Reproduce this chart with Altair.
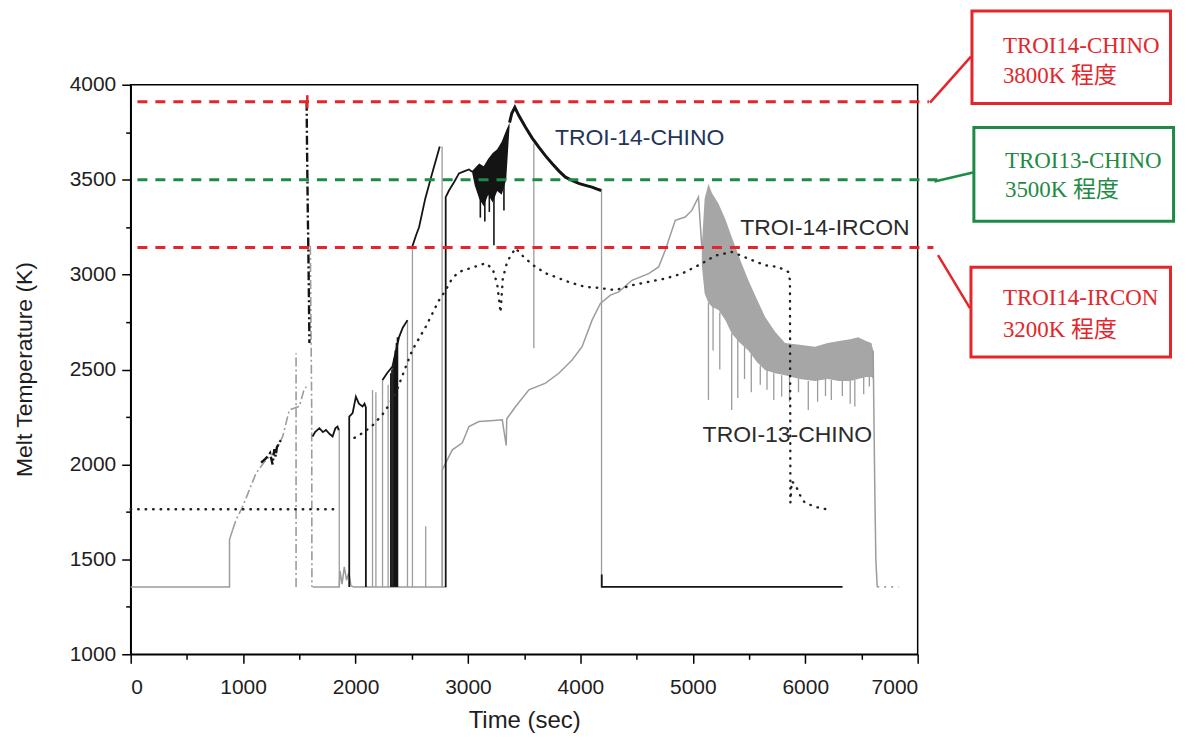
import altair as alt
import pandas as pd

# ---------------- values ----------------
# TROI-13-CHINO (grey trace)
c13_base_t = [0, 879, 879, 908]
c13_base_k = [1355, 1355, 1604, 1657]
c13_rise_t = [908, 938, 997, 1115, 1204, 1290, 1352, 1411, 1470, 1500, 1540, 1562]
c13_rise_k = [1657, 1709, 1779, 1954, 2025, 2070, 2147, 2287, 2300, 2305, 2390, 2410]
c13_drop1_t = [1471, 1471]
c13_drop1_k = [1355, 2585]
c13_drop2_t = [1598, 1604, 1610, 1612]
c13_drop2_k = [3150, 2700, 2300, 1355]
c13_low_t = [1618, 1855, 1862, 1880, 1900, 1920, 1940, 1960, 1985, 2810]
c13_low_k = [1355, 1355, 1440, 1370, 1460, 1390, 1430, 1360, 1355, 1355]
c13_main_t = [2772, 2772, 2861, 2950, 3009, 3098, 3200, 3305, 3340, 3345, 3424, 3542, 3690,
              3808, 3926, 4015, 4104, 4178, 4267, 4341, 4459, 4607, 4696, 4755, 4844, 4932,
              4991, 5050, 5080]
c13_main_k = [1355, 1972, 2077, 2114, 2200, 2226, 2230, 2235, 2100, 2240, 2305, 2393, 2428,
              2480, 2550, 2620, 2760, 2848, 2892, 2909, 2970, 3005, 3040, 3128, 3286, 3303,
              3338, 3408, 3146]
c13_band_t = [5080, 5105, 5139, 5170, 5228, 5290, 5346, 5420, 5494, 5570, 5642, 5730, 5820,
              5950, 6086, 6200, 6300, 6400, 6471, 6540, 6589, 6604]
c13_band_hi = [3150, 3400, 3478, 3430, 3374, 3290, 3198, 3080, 2970, 2870, 2778, 2700, 2639,
               2630, 2620, 2640, 2650, 2660, 2670, 2650, 2640, 2600]
c13_band_lo = [3050, 2900, 2850, 2830, 2813, 2760, 2690, 2640, 2600, 2540, 2498, 2480, 2470,
               2450, 2440, 2450, 2440, 2440, 2450, 2460, 2460, 2450]
c13_tail_t = [6604, 6610, 6618, 6628, 6640]
c13_tail_k = [2600, 2300, 1900, 1500, 1355]
c13_dots_t = [6640, 6830]
c13_dots_k = [1355, 1355]
# grey vertical excursions: time, low, high
g_spike_t = [1855, 2151, 2181, 2240, 2290, 2462, 2506, 2624, 2770, 3586, 4188,
             5139, 5180, 5240, 5346, 5400, 5460, 5520, 5600, 5660, 5720, 5790, 5860,
             5940, 6027, 6110, 6180, 6232, 6330, 6400, 6441, 6520, 6570]
g_spike_lo = [1355, 1355, 1355, 1355, 1355, 1355, 1355, 1355, 1355, 2612, 1355,
              2340, 2600, 2500, 2287, 2350, 2450, 2380, 2420, 2393, 2340, 2357, 2330,
              2380, 2287, 2330, 2360, 2340, 2360, 2320, 2305, 2370, 2410]
g_spike_hi = [2190, 2392, 2380, 2445, 2420, 2760, 3150, 1674, 3675, 3690, 3450,
              2850, 2830, 2800, 2690, 2660, 2620, 2580, 2520, 2498, 2480, 2470, 2465,
              2450, 2440, 2445, 2450, 2445, 2440, 2440, 2445, 2460, 2460]

# TROI-14-CHINO (black trace)
c14_a_t = [1160, 1200, 1240, 1262, 1278, 1290, 1300, 1337]
c14_a_k = [2009, 2030, 2060, 2000, 2080, 2042, 2090, 2130]
c14_b_t = [1565, 1568, 1572, 1576, 1580, 1585, 1590]
c14_b_k = [3910, 3700, 3500, 3300, 3150, 2900, 2640]
c14_c_t = [1618, 1640, 1678, 1710, 1737, 1770, 1796, 1820, 1840, 1850]
c14_c_k = [2147, 2170, 2191, 2170, 2182, 2160, 2147, 2190, 2200, 2180]
c14_d_t = [1944, 1944, 1974, 2003, 2030, 2062, 2080, 2092, 2092]
c14_d_k = [1355, 2252, 2270, 2357, 2320, 2305, 2320, 2300, 1355]
c14_e_t = [2240, 2280, 2328, 2360, 2388, 2420, 2462]
c14_e_k = [2445, 2480, 2515, 2600, 2672, 2720, 2760]
c14_f_t = [2506, 2540, 2565, 2620, 2680, 2749]
c14_f_k = [3150, 3210, 3249, 3400, 3530, 3675]
c14_g_t = [2802, 2802, 2831, 2880, 2920, 2970, 3009, 3036]
c14_g_k = [1355, 3408, 3443, 3490, 3533, 3545, 3554, 3542]
c14_band_t = [3036, 3060, 3100, 3140, 3180, 3220, 3260, 3300, 3340, 3370]
c14_band_hi = [3545, 3560, 3585, 3570, 3610, 3640, 3660, 3700, 3760, 3800]
c14_band_lo = [3540, 3470, 3400, 3360, 3420, 3380, 3440, 3420, 3500, 3780]
c14_h_t = [3370, 3390, 3417, 3450, 3512, 3570, 3630, 3690, 3748, 3810, 3867, 3930, 3985,
           4045, 4103, 4150, 4185]
c14_h_k = [3800, 3850, 3881, 3840, 3776, 3720, 3671, 3625, 3585, 3545, 3513, 3495, 3480,
           3470, 3461, 3450, 3443]
c14_i_t = [4190, 4190, 6332]
c14_i_k = [1420, 1355, 1355]
b_spike_t = [2314, 2324, 2334, 2344, 2354, 2364, 2373, 3110, 3150, 3190, 3231, 3320]
b_spike_lo = [1355, 1355, 1355, 1355, 1355, 1355, 1355, 3300, 3280, 3330, 3154, 3338]
b_spike_hi = [2480, 2500, 2520, 2560, 2600, 2640, 2670, 3450, 3420, 3450, 3450, 3500]

# TROI-14-IRCON (dotted trace)
ir_a_t = [0, 1840]
ir_a_k = [1764, 1764]
ir_b_t = [1990, 2062, 2148, 2237, 2269, 2358, 2447, 2506, 2624, 2743, 2802, 2860, 2920,
          3000, 3080, 3157, 3220, 3260, 3290, 3310, 3350, 3423, 3500, 3601, 3700, 3808,
          3900, 4045, 4163, 4311, 4459, 4607, 4755, 4903, 5080, 5200, 5346, 5494, 5642,
          5760, 5849, 5864, 5866, 5868]
ir_b_k = [2140, 2165, 2203, 2261, 2287, 2375, 2515, 2603, 2725, 2865, 2918, 2980, 3014,
          3030, 3045, 3060, 3030, 2950, 2800, 2980, 3070, 3139, 3090, 3040, 3005, 2981,
          2960, 2935, 2930, 2918, 2944, 2962, 2979, 3005, 3058, 3100, 3119, 3084, 3049,
          3040, 3014, 2970, 2400, 1800]
ir_c_t = [5868, 5880, 5900, 5930, 5960, 5998, 6100, 6204]
ir_c_k = [1800, 1911, 1900, 1870, 1830, 1797, 1775, 1762]

# reference levels and annotation texts
ref_k = [3910, 3500, 3143]
ref_end_t = [7100, 7180, 7140]
ref_color = ["#e3262b", "#1f8a45", "#e3262b"]
box_line1 = ["TROI14-CHINO", "TROI13-CHINO", "TROI14-IRCON"]
box_line2 = ["3800K 程度", "3500K 程度", "3200K 程度"]
series_labels = ["TROI-14-CHINO", "TROI-14-IRCON", "TROI-13-CHINO"]
series_label_t = [4527, 6175, 5841]
series_label_k = [3680, 3207, 2119]
series_label_color = ["#22345a", "#2b2b2b", "#2b2b2b"]

x_ticks = list(range(0, 7001, 1000))
x_minor = list(range(500, 7000, 1000))
y_ticks = list(range(1000, 4001, 500))
y_minor = list(range(1250, 4000, 500))

# ---------------- chart ----------------
W, H = 789, 571
xscale = alt.Scale(domain=[0, 7000], nice=False, zero=False)
yscale = alt.Scale(domain=[1000, 4000], nice=False, zero=False)
X = alt.X("t:Q", scale=xscale, axis=None)
Y = alt.Y("k:Q", scale=yscale, axis=None)


def seg_df(segments):
    rows = []
    for sid, (ts, ks) in enumerate(segments):
        for i, (t, k) in enumerate(zip(ts, ks)):
            rows.append({"t": t, "k": k, "seg": sid, "i": i})
    return pd.DataFrame(rows)


def lines(segments, **mark):
    return alt.Chart(seg_df(segments)).mark_line(**mark).encode(
        x=X, y=Y, detail="seg:N", order="i:Q")


def band(ts, hi, lo, color):
    df = pd.DataFrame({"t": ts, "k": hi, "k2": lo})
    return alt.Chart(df).mark_area(color=color, opacity=1, strokeWidth=0).encode(
        x=X, y=Y, y2="k2:Q")


def spikes(ts, lo, hi, color, width):
    df = pd.DataFrame({"t": ts, "k": lo, "k2": hi})
    return alt.Chart(df).mark_rule(color=color, strokeWidth=width).encode(
        x=X, y=Y, y2="k2:Q")


GREY = "#9c9c9c"
BLACK = "#141414"
DASHDOT = [9, 3, 2, 3]

layers = []
layers.append(band(c13_band_t, c13_band_hi, c13_band_lo, "#a6a6a6"))
layers.append(spikes(g_spike_t, g_spike_lo, g_spike_hi, GREY, 1.3))
layers.append(lines([(c13_base_t, c13_base_k), (c13_low_t, c13_low_k),
                     (c13_main_t, c13_main_k), (c13_tail_t, c13_tail_k)],
                    color=GREY, strokeWidth=1.5))
layers.append(lines([(c13_rise_t, c13_rise_k), (c13_drop1_t, c13_drop1_k),
                     (c13_drop2_t, c13_drop2_k)],
                    color=GREY, strokeWidth=1.6, strokeDash=DASHDOT))
layers.append(lines([(c13_dots_t, c13_dots_k)], color=GREY, strokeWidth=1.6,
                    strokeDash=[2, 5]))
layers.append(band(c14_band_t, c14_band_hi, c14_band_lo, BLACK))
layers.append(spikes(b_spike_t, b_spike_lo, b_spike_hi, BLACK, 1.6))
layers.append(lines([(c14_a_t, c14_a_k), (c14_b_t, c14_b_k)],
                    color=BLACK, strokeWidth=2.4, strokeDash=DASHDOT))
layers.append(lines([(c14_c_t, c14_c_k), (c14_d_t, c14_d_k), (c14_e_t, c14_e_k),
                     (c14_f_t, c14_f_k), (c14_g_t, c14_g_k), (c14_i_t, c14_i_k)],
                    color=BLACK, strokeWidth=1.8))
layers.append(lines([(c14_h_t, c14_h_k)], color=BLACK, strokeWidth=3))
layers.append(lines([(ir_a_t, ir_a_k), (ir_b_t, ir_b_k), (ir_c_t, ir_c_k)],
                    color="#222222", strokeWidth=2.4, strokeDash=[0.5, 7],
                    strokeCap="round"))

# reference dashed lines
ref_df = pd.DataFrame({"t": [60, 60, 60], "t2": ref_end_t, "k": ref_k, "c": ref_color})
layers.append(alt.Chart(ref_df).mark_rule(strokeWidth=3, strokeDash=[10, 8]).encode(
    x=X, x2="t2:Q", y=Y, color=alt.Color("c:N", scale=None)))
# small red cross mark at top of the spike
layers.append(alt.Chart(pd.DataFrame({"t": [1571], "k": [3875], "k2": [3945]}))
              .mark_rule(color="#e3262b", strokeWidth=2.5).encode(x=X, y=Y, y2="k2:Q"))

# annotation connectors and boxes (outside the plot, in data units)
con_df = pd.DataFrame({"t": [7110, 7150, 7181], "k": [3906, 3490, 3102],
                       "t2": [7474, 7492, 7465], "k2": [4148, 3538, 2823],
                       "c": ref_color})
layers.append(alt.Chart(con_df).mark_rule(strokeWidth=2.5).encode(
    x=X, y=Y, x2="t2:Q", y2="k2:Q", color=alt.Color("c:N", scale=None)))
box_df = pd.DataFrame({"t": [7483, 7500, 7474], "t2": [9249, 9276, 9249],
                       "k": [3901, 3281, 2566], "k2": [4389, 3775, 3039],
                       "c": ref_color})
layers.append(alt.Chart(box_df).mark_rect(fill="white", strokeWidth=3).encode(
    x=X, x2="t2:Q", y=Y, y2="k2:Q", stroke=alt.Stroke("c:N", scale=None)))
txt_df = pd.DataFrame({
    "t": [7758, 7776, 7758] * 2,
    "k": [4169, 3564, 2839, 4011, 3407, 2671],
    "s": box_line1 + box_line2,
    "c": ref_color * 2,
})
layers.append(alt.Chart(txt_df).mark_text(
    align="left", baseline="alphabetic", fontSize=23,
    font="Liberation Serif, Noto Sans CJK JP").encode(
    x=X, y=Y, text="s:N", color=alt.Color("c:N", scale=None)))

# series labels
lab_df = pd.DataFrame({"t": series_label_t, "k": series_label_k, "s": series_labels,
                       "c": series_label_color})
layers.append(alt.Chart(lab_df).mark_text(
    align="center", baseline="alphabetic", fontSize=23, font="Liberation Sans").encode(
    x=X, y=Y, text="s:N", color=alt.Color("c:N", scale=None)))

# axes: major (labelled) and minor ticks
axis_df = pd.DataFrame({"t": [0, 7000], "k": [1000, 4000]})
major = alt.Chart(axis_df).mark_point(opacity=0).encode(
    x=alt.X("t:Q", scale=xscale, axis=alt.Axis(
        orient="bottom", values=x_ticks, format="d", tickSize=9, tickWidth=1.5,
        tickColor="black", domainColor="black", domainWidth=1.5, grid=False,
        labelFont="Liberation Sans Narrow, Liberation Sans", labelFontSize=21,
        labelColor="#1e1e1e", labelPadding=13, title="Time (sec)",
        titleFont="Liberation Sans Narrow, Liberation Sans", titleFontSize=24,
        titleFontWeight="normal", titleColor="#1e1e1e", titleY=66,
        titleBaseline="middle")),
    y=alt.Y("k:Q", scale=yscale, axis=alt.Axis(
        orient="left", values=y_ticks, format="d", tickSize=9, tickWidth=1.5,
        tickColor="black", domainColor="black", domainWidth=1.5, grid=False,
        labelFont="Liberation Sans", labelFontSize=21, labelColor="#1e1e1e",
        labelPadding=6, title="Melt Temperature (K)", titleFont="Liberation Sans",
        titleFontSize=23, titleFontWeight="normal", titleColor="#1e1e1e",
        titleAngle=270, titleX=-106, titleY=285, titleAlign="center",
        titleBaseline="middle")))
minor = alt.Chart(axis_df).mark_point(opacity=0).encode(
    x=alt.X("t:Q", scale=xscale, axis=alt.Axis(
        orient="bottom", values=x_minor, labels=False, tickSize=5, tickWidth=1.5,
        tickColor="black", domain=False, grid=False, title="")),
    y=alt.Y("k:Q", scale=yscale, axis=alt.Axis(
        orient="left", values=y_minor, labels=False, tickSize=5, tickWidth=1.5,
        tickColor="black", domain=False, grid=False, title="")))

chart = alt.layer(major, minor, *layers).resolve_axis(
    x="independent", y="independent").properties(
    width=W, height=H,
    autosize=alt.AutoSizeParams(type="none"),
    padding={"left": 123, "top": 76, "right": 262, "bottom": 80},
    background="white",
).configure_view(stroke="black", strokeWidth=1.5)

chart.save("out.html", embed_options={"renderer": "svg", "actions": False})
